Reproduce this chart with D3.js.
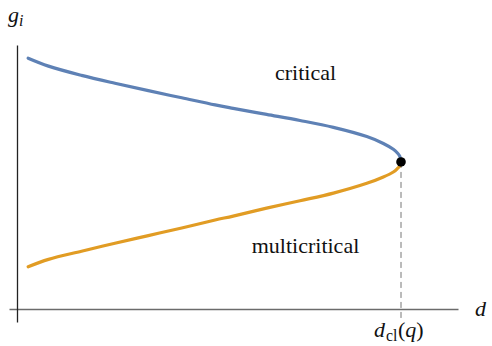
<!DOCTYPE html>
<html>
<head>
<meta charset="utf-8">
<script src="https://cdn.jsdelivr.net/npm/d3@7"></script>
<style>
  body { margin: 0; background: #fff; }
</style>
</head>
<body>
<div class="chart"></div>
<script>
"use strict"

// d values (in units of d_cl) where the curves were read
const dVals = [0.029, 0.082, 0.168, 0.255, 0.342, 0.429, 0.516, 0.563, 0.650, 0.737, 0.824, 0.911, 0.954, 0.980, 0.990, 0.997, 1.0];
// critical branch (blue)
const critical = [0.950, 0.920, 0.885, 0.855, 0.827, 0.800, 0.773, 0.760, 0.737, 0.714, 0.688, 0.653, 0.627, 0.605, 0.592, 0.578, 0.557];
// multicritical branch (orange)
const multicritical = [0.160, 0.188, 0.219, 0.249, 0.278, 0.307, 0.337, 0.352, 0.382, 0.410, 0.439, 0.476, 0.500, 0.519, 0.531, 0.543, 0.557];
const tipPoint = [1.0, 0.557];

const W = 492, H = 346;
const serif = "Liberation Serif";

let s = d3.select(".chart")
  .append("svg")
  .attr("width", W)
  .attr("height", H);

let x = d3.scaleLinear().domain([0, 1]).range([17, 401]);
let y = d3.scaleLinear().domain([0, 1]).range([309, 45]);

// text first, plain 22px text elements
function txt(xp, yp) {
  return s.append("text")
    .attr("x", xp).attr("y", yp)
    .attr("font-size", 22)
    .attr("font-family", serif)
    .attr("fill", "#111");
}

txt(305.5, 80).attr("text-anchor", "middle").text("critical");
txt(305.5, 253).attr("text-anchor", "middle").text("multicritical");
txt(8, 22).attr("font-style", "italic").text("g");
txt(475, 316).attr("font-style", "italic").text("d");

// d_cl(q): main glyphs at 22px, subscript scaled in its own group
let dcl = txt(374, 337);
dcl.append("tspan").attr("font-style", "italic").text("d");
dcl.append("tspan").attr("dx", 13).text("(");
dcl.append("tspan").attr("font-style", "italic").text("q");
dcl.append("tspan").text(")");

function sub(str, xp, yp, it) {
  s.append("g")
    .attr("transform", "translate(" + xp + "," + yp + ") scale(0.72)")
    .append("text")
    .attr("font-size", 22)
    .attr("font-family", serif)
    .attr("font-style", it ? "italic" : "normal")
    .attr("fill", "#111")
    .text(str);
}
sub("i", 19, 26, true);
sub("cl", 386, 341, false);

// x axis: just the line
let xa = x.copy().domain([x.invert(9), x.invert(458)]).range([9, 458]);
s.append("g")
  .attr("transform", "translate(0," + y(0) + ")")
  .call(d3.axisBottom(xa).tickValues([]).tickSizeOuter(0))
  .call(g => g.select(".domain").attr("stroke", "#6b6b6b").attr("stroke-width", 1.6));

// y axis
let ya = y.copy().domain([y.invert(322), y.invert(45)]).range([322, 45]);
s.append("g")
  .attr("transform", "translate(" + x(0) + ",0)")
  .call(d3.axisLeft(ya).tickValues([]).tickSizeOuter(0))
  .call(g => g.select(".domain").attr("stroke", "#222").attr("stroke-width", 1.3));

// dashed drop line from the tip
s.append("line")
  .attr("x1", x(tipPoint[0])).attr("x2", x(tipPoint[0]))
  .attr("y1", y(tipPoint[1])).attr("y2", y(0) + 9)
  .attr("stroke", "#777")
  .attr("stroke-width", 1)
  .attr("stroke-dasharray", "6,4");

let line = d3.line()
  .x(function (d) { return x(d[0]); })
  .y(function (d) { return y(d[1]); })
  .curve(d3.curveCatmullRom);

s.append("path")
  .datum(dVals.map(function (d, i) { return [d, critical[i]]; }))
  .attr("fill", "none")
  .attr("stroke", "#5e81b5")
  .attr("stroke-width", 3.2)
  .attr("stroke-linecap", "round")
  .attr("d", line);

s.append("path")
  .datum(dVals.map(function (d, i) { return [d, multicritical[i]]; }))
  .attr("fill", "none")
  .attr("stroke", "#e19c24")
  .attr("stroke-width", 3.2)
  .attr("stroke-linecap", "round")
  .attr("d", line);

s.append("circle")
  .attr("cx", x(tipPoint[0]))
  .attr("cy", y(tipPoint[1]))
  .attr("r", 4.8)
  .attr("fill", "#000");
</script>
</body>
</html>
